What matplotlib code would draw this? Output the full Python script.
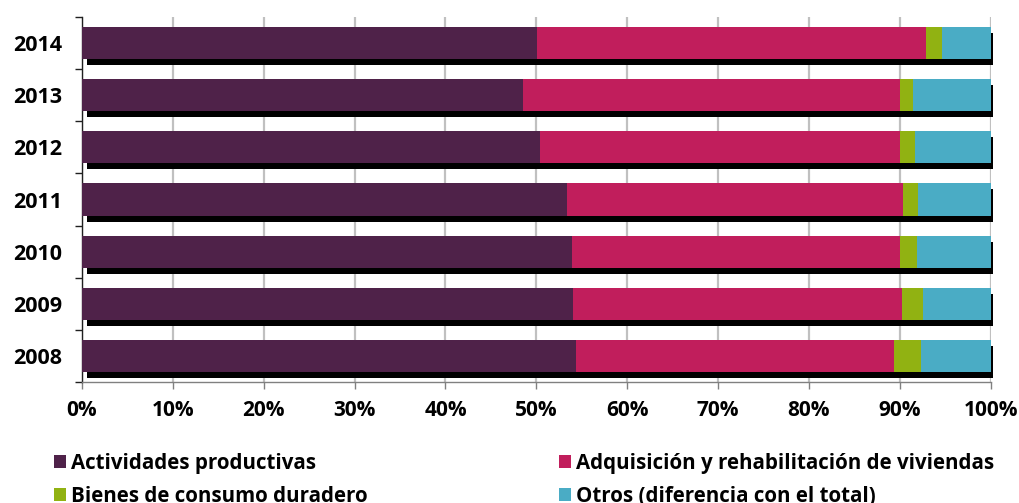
import numpy as np
import matplotlib
matplotlib.use('Agg')
import matplotlib.pyplot as plt
from matplotlib.patches import Patch

plt.rcParams['font.family'] = ['Open Sans', 'DejaVu Sans']
plt.rcParams['font.weight'] = 'bold'

# data (% of total credit)
years = ['2008', '2009', '2010', '2011', '2012', '2013', '2014']
productivas = [54.4, 54.05, 53.9, 53.4, 50.4, 48.5, 50.1]
viviendas = [35.0, 36.15, 36.1, 37.0, 39.6, 41.5, 42.8]
consumo = [2.9, 2.3, 1.9, 1.6, 1.7, 1.5, 1.7]
otros = [100 - a - b - c for a, b, c in zip(productivas, viviendas, consumo)]

names = ['Actividades productivas', 'Adquisición y rehabilitación de viviendas',
         'Bienes de consumo duradero', 'Otros (diferencia con el total)']
colors = ['#4F2249', '#C11E5C', '#91B212', '#4AACC5']

fig = plt.figure(figsize=(10.2, 5.03), dpi=100)
ax = fig.add_axes([0.0804, 0.2405, 0.8909, 0.7257])

y = np.arange(len(years))
h = 0.615

# black drop shadow behind each bar
ax.barh(y - 0.115, [99.65] * len(years), left=0.55, height=h,
        color='black', zorder=2, clip_on=False)

left = np.zeros(len(years))
for vals, col in zip([productivas, viviendas, consumo, otros], colors):
    ax.barh(y, vals, left=left, height=h, color=col, zorder=3)
    left = left + np.array(vals)

ax.set_xlim(0, 100)
ax.set_ylim(-0.5, len(years) - 0.5)
ax.set_xticks(np.arange(0, 101, 10))
ax.set_xticklabels([f'{v}%' for v in range(0, 101, 10)])
ax.set_yticks(y)
ax.set_yticklabels(years)
ax.set_yticks(np.arange(-0.5, len(years), 1), minor=True)

ax.grid(axis='x', color='#C0C0C0', linewidth=1.6, zorder=0)
ax.set_axisbelow(True)

for s in ['top', 'right']:
    ax.spines[s].set_visible(False)
ax.spines['left'].set_color('#202020')
ax.spines['left'].set_linewidth(1.0)
ax.spines['bottom'].set_color('#808080')
ax.spines['bottom'].set_linewidth(1.0)

ax.tick_params(axis='y', which='major', length=0, pad=14, labelsize=15.5)
ax.tick_params(axis='y', which='minor', length=5, width=1, color='#202020')
ax.tick_params(axis='x', which='major', length=5, width=1, color='#808080',
               pad=8, labelsize=15)
for lab in ax.get_xticklabels() + ax.get_yticklabels():
    lab.set_fontweight('bold')

handles = [Patch(facecolor=c, edgecolor='none') for c in colors]
kw = dict(frameon=False, handlelength=0.6, handleheight=0.6,
          handletextpad=0.25, labelspacing=0.57, borderaxespad=0, borderpad=0,
          prop={'family': 'Open Sans', 'weight': 'bold', 'size': 14.8})
leg1 = fig.legend([handles[0], handles[2]], [names[0], names[2]],
                  loc='upper left', bbox_to_anchor=(54 / 1020, 1 - 453 / 503), **kw)
leg2 = fig.legend([handles[1], handles[3]], [names[1], names[3]],
                  loc='upper left', bbox_to_anchor=(559 / 1020, 1 - 453 / 503), **kw)

fig.savefig('out.png', dpi=100)
